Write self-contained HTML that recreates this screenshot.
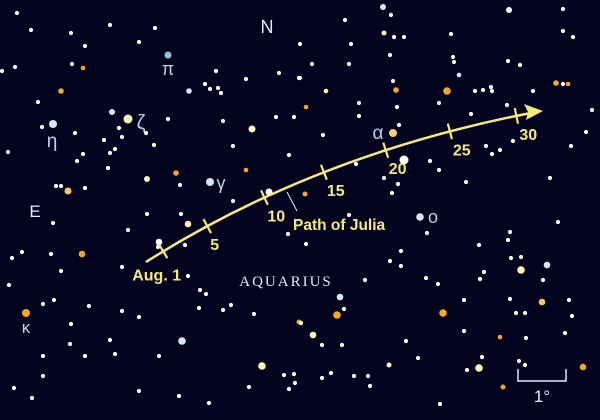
<!DOCTYPE html>
<html><head><meta charset="utf-8"><style>
html,body{margin:0;padding:0;background:#03031f;}
svg{display:block;font-family:"Liberation Sans",sans-serif;}
</style></head><body>
<svg width="600" height="420" viewBox="0 0 600 420">
<rect width="600" height="420" fill="#03031f"/>
<g id="stars"></g>
<g id="path"></g>
<text x="267" y="33" fill="#e8ecf5" font-size="18" text-anchor="middle">N</text>
<text x="35" y="217" fill="#e8ecf5" font-size="17" text-anchor="middle">E</text>
<text x="168" y="75" fill="#b8d4ea" font-size="18" text-anchor="middle">π</text>
<text x="141" y="129" fill="#b8d4ea" font-size="20" text-anchor="middle">ζ</text>
<text x="52" y="147" fill="#b8d4ea" font-size="19" text-anchor="middle">η</text>
<text x="221" y="189" fill="#b8d4ea" font-size="18" text-anchor="middle">γ</text>
<text x="378" y="139" fill="#b8d4ea" font-size="19" text-anchor="middle">α</text>
<text x="433" y="223" fill="#b8d4ea" font-size="18" text-anchor="middle">ο</text>
<text x="26" y="333" fill="#b8d4ea" font-size="17" text-anchor="middle">κ</text>
<text x="286" y="286" fill="#e8ecf5" font-size="15" text-anchor="middle" letter-spacing="2" font-family="Liberation Serif, serif">AQUARIUS</text>
<line x1="287" y1="192" x2="297" y2="211" stroke="#e8ecf5" stroke-width="1"/>
<text x="293" y="230" fill="#f5e97a" font-size="15.5" font-weight="bold">Path of Julia</text>
<path d="M518 369 V381 H566 V369" fill="none" stroke="#e8ecf5" stroke-width="1.5"/>
<text x="542" y="402" fill="#e8ecf5" font-size="17" text-anchor="middle">1°</text>
</svg>
<script>
const starX=[17,31,71,110,155,85,139,168,72,83,15,2,61,38,216,205,210,218,221,189,246,279,299,112,128,53,42,119,122,75,104,146,168,154,115,110,83,77,8,108,223,233,252,276,294,289,246,176,147,180,210,56,61,68,85,233,269,
383,391,345,509,563,384,394,404,451,351,563,573,390,453,454,520,508,349,312,300,300,459,393,326,396,447,475,483,491,492,533,556,563,568,306,359,397,359,439,471,507,592,399,323,393,586,571,486,492,500,513,404,430,439,356,384,398,466,550,392,305,
53,147,181,188,128,185,158,22,51,12,82,61,122,159,188,9,200,206,43,54,89,26,122,71,139,199,223,231,254,70,110,182,115,43,85,159,262,284,294,295,289,249,43,14,32,139,179,209,288,299,
349,420,427,558,306,401,390,401,479,508,511,521,510,521,547,484,480,365,426,438,340,344,337,301,313,322,342,406,443,464,510,525,516,542,569,543,572,565,526,464,500,389,331,368,354,322,370,418,482,467,479,519,525,583,440,503];
const starY=[13,30,33,25,28,46,42,55,64,68,67,71,91,102,71,84,89,88,93,91,79,73,78,112,119,124,127,128,137,133,140,133,119,145,149,153,154,161,152,168,121,146,129,117,117,155,170,173,179,185,182,186,186,191,188,201,192,
7,15,20,10,9,33,37,37,34,44,31,37,55,57,62,65,61,64,64,44,78,75,81,91,90,91,91,90,87,91,91,83,84,84,107,103,107,116,103,114,105,110,125,135,133,132,146,146,154,150,141,160,161,170,164,178,184,182,178,193,194,
223,214,214,224,230,245,247,252,254,258,254,271,267,242,276,285,290,294,304,300,306,313,311,324,317,308,310,305,314,344,340,341,354,356,356,356,366,375,374,383,389,387,376,388,398,391,396,403,234,322,
215,217,233,222,244,251,261,266,245,240,258,257,232,270,265,272,279,280,278,284,297,309,315,323,335,345,345,341,313,300,299,313,313,302,300,280,316,333,338,331,337,365,373,376,376,378,386,358,357,370,368,361,365,367,404,387];
const big={"168,55":[3.5,"#8fc3e0"],"83,68":[2.3,"#f5a623"],"61,91":[2.8,"#f5a623"],"189,91":[2.8,"#cfeaf7"],"112,112":[3,"#cfeaf7"],"128,119":[4.5,"#fff3b8"],"53,124":[4,"#cfeaf7"],"252,129":[3.5,"#fff3b8"],"246,170":[2.3,"#f5a623"],"176,173":[2.8,"#f5a623"],"147,179":[3,"#fff3b8"],"210,182":[4,"#cfeaf7"],"68,191":[3.5,"#f7c75a"],"269,192":[3.5,"#ffffff"],
"383,7":[3,"#cfeaf7"],"509,10":[3,"#ffffff"],"384,33":[2.5,"#fff3b8"],"459,75":[2.3,"#cfeaf7"],"326,91":[2.3,"#fff3b8"],"396,90":[2.8,"#f5a623"],"447,91":[3.8,"#f5a623"],"556,83":[2.8,"#f5a623"],"568,84":[2.3,"#f5a623"],"306,107":[2.3,"#f5a623"],"393,133":[4,"#f7d27a"],"404,160":[4.5,"#ffffff"],"305,194":[2.5,"#f5a623"],
"188,224":[3.3,"#fff3b8"],"82,254":[3.3,"#f5a623"],"159,242":[3.3,"#ffffff"],"26,313":[4,"#f5a623"],"182,341":[3.8,"#cfeaf7"],"262,366":[3.8,"#fff3b8"],"299,322":[2.5,"#f5a623"],
"420,217":[3.8,"#cfeaf7"],"521,270":[3.8,"#fff3b8"],"547,265":[3.3,"#cfeaf7"],"340,297":[3.3,"#cfeaf7"],"337,315":[3.8,"#f5a623"],"313,335":[3.3,"#fff3b8"],"443,313":[3.8,"#f5a623"],"542,302":[3.3,"#f7c75a"],"500,337":[2.3,"#f5a623"],"389,365":[2.5,"#fff3b8"],"479,368":[3.8,"#fff3b8"],"583,367":[3.3,"#f5a623"],"503,387":[2.5,"#f5a623"]};
const sg=document.getElementById('stars');const NS='http://www.w3.org/2000/svg';
for(let i=0;i<starX.length;i++){
 const k=starX[i]+','+starY[i];const b=big[k]||[2.1,'#ffffff'];
 const c=document.createElementNS(NS,'circle');
 c.setAttribute('cx',starX[i]);c.setAttribute('cy',starY[i]);c.setAttribute('r',b[0]);c.setAttribute('fill',b[1]);
 
 
 sg.appendChild(c);
}
const days=[1,5,10,15,20,25,30];
const dayLabels=["Aug. 1","5","10","15","20","25","30"];
const P0=[146,262],C=[317,153.5],P2=[536,112];
function bez(t){const u=1-t;return [u*u*P0[0]+2*t*u*C[0]+t*t*P2[0],u*u*P0[1]+2*t*u*C[1]+t*t*P2[1]];}
function der(t){return [2*(1-t)*(C[0]-P0[0])+2*t*(P2[0]-C[0]),2*(1-t)*(C[1]-P0[1])+2*t*(P2[1]-C[1])];}
function dayT(d){return 0.05+(d-1)/29*0.905;}
const pg=document.getElementById('path');
const cur=document.createElementNS(NS,'path');
cur.setAttribute('d',`M${P0} Q${C} ${P2}`);cur.setAttribute('fill','none');cur.setAttribute('stroke','#f5e97a');cur.setAttribute('stroke-width','2.5');


pg.appendChild(cur);
const arr=document.createElementNS(NS,'polygon');
arr.setAttribute('points','543,111 524,104 528,112 526,120');arr.setAttribute('fill','#f5e97a');


pg.appendChild(arr);
days.forEach((d,i)=>{
 const t=dayT(d);const p=bez(t);const dv=der(t);const L=Math.hypot(dv[0],dv[1]);const nx=-dv[1]/L,ny=dv[0]/L;
 const tk=document.createElementNS(NS,'line');
 tk.setAttribute('x1',p[0]-nx*8);tk.setAttribute('y1',p[1]-ny*8);tk.setAttribute('x2',p[0]+nx*8);tk.setAttribute('y2',p[1]+ny*8);
 tk.setAttribute('stroke','#f5e97a');tk.setAttribute('stroke-width','2.2');
 
 
 pg.appendChild(tk);
 const tx=document.createElementNS(NS,'text');
 if(i===0){tx.setAttribute('x',p[0]-31);tx.setAttribute('y',p[1]+29);}
 else{tx.setAttribute('x',p[0]+3);tx.setAttribute('y',p[1]+24);}
 tx.setAttribute('fill','#f5e97a');tx.setAttribute('font-size','16');tx.setAttribute('font-weight','bold');
 tx.textContent=dayLabels[i];
 
 
 pg.appendChild(tx);
});
</script>
</body></html>
